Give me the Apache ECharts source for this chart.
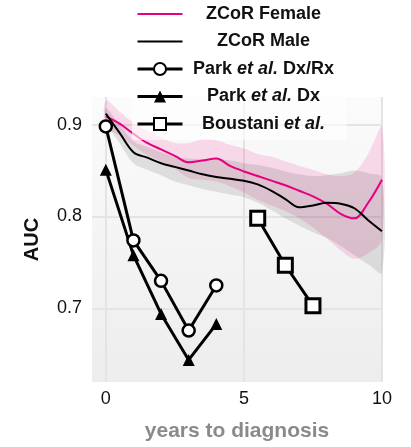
<!DOCTYPE html>
<html>
<head>
<meta charset="utf-8">
<script src="https://cdn.jsdelivr.net/npm/echarts@6/dist/echarts.min.js"></script>
<style>
  html, body { margin: 0; padding: 0; background: #ffffff; }
  #chart { width: 411px; height: 447px; }
</style>
</head>
<body>
<div id="chart"></div>
<script>
// ZCoR curves, sampled every half year before diagnosis
const years = [0, 0.5, 1, 1.5, 2, 2.5, 3, 3.5, 4, 4.5, 5, 5.5, 6, 6.5, 7, 7.5, 8, 8.5, 9, 9.5, 10];

const femaleAUC  = [0.909, 0.901, 0.890, 0.880, 0.873, 0.866, 0.859, 0.861, 0.863, 0.855, 0.849,
                    0.844, 0.839, 0.834, 0.828, 0.822, 0.814, 0.803, 0.798, 0.815, 0.840];
const femaleLow  = [0.898, 0.888, 0.877, 0.867, 0.860, 0.852, 0.842, 0.840, 0.838, 0.833, 0.826,
                    0.818, 0.812, 0.806, 0.798, 0.788, 0.776, 0.763, 0.754, 0.760, 0.775];
const femaleHigh = [0.926, 0.914, 0.902, 0.893, 0.886, 0.880, 0.880, 0.884, 0.883, 0.878, 0.874,
                    0.868, 0.865, 0.860, 0.855, 0.851, 0.846, 0.844, 0.848, 0.868, 0.897];

const maleAUC  = [0.912, 0.891, 0.870, 0.864, 0.858, 0.854, 0.850, 0.846, 0.843, 0.841, 0.839,
                  0.835, 0.828, 0.819, 0.810, 0.812, 0.815, 0.814, 0.809, 0.796, 0.784];
const maleLow  = [0.904, 0.880, 0.858, 0.851, 0.845, 0.838, 0.834, 0.830, 0.827, 0.824, 0.821,
                  0.815, 0.807, 0.798, 0.790, 0.783, 0.777, 0.768, 0.758, 0.748, 0.739];
const maleHigh = [0.918, 0.900, 0.882, 0.876, 0.870, 0.865, 0.863, 0.862, 0.862, 0.861, 0.858,
                  0.856, 0.853, 0.849, 0.846, 0.844, 0.845, 0.847, 0.850, 0.847, 0.842];

// Published comparison models
const parkYears  = [0, 1, 2, 3, 4];
const parkDxRx   = [0.898, 0.774, 0.730, 0.676, 0.725];
const parkDx     = [0.851, 0.758, 0.694, 0.644, 0.683];
const boustaniYears = [5.5, 6.5, 7.5];
const boustaniAUC   = [0.798, 0.747, 0.703];

// Axis ticks
const xTicks = [0, 5, 10];
const yTicks = [0.7, 0.8, 0.9];

const seriesNames = ['ZCoR Female', 'ZCoR Male', 'Park et al. Dx/Rx', 'Park et al. Dx', 'Boustani et al.'];
const legendRich = {
  '0': '{b|ZCoR Female}',
  '1': '{b|ZCoR Male}',
  '2': '{b|Park }{i|et al.}{b| Dx/Rx}',
  '3': '{b|Park }{i|et al.}{b| Dx}',
  '4': '{b|Boustani }{i|et al.}'
};

const pairs = (xs, ys) => xs.map((x, i) => [x, ys[i]]);

const FONT = '"Liberation Sans", Arial, Helvetica, sans-serif';
const SMOOTH = 0.35;

// Shaded confidence band between a lower and an upper curve
function bandSeries(name, lo, hi, color) {
  return {
    name: name, type: 'custom', silent: true, z: 1,
    data: [[years[0], lo[0]]],
    renderItem: function (params, api) {
      const upper = years.map((x, i) => api.coord([x, hi[i]]));
      const lower = years.map((x, i) => api.coord([x, lo[i]])).reverse();
      return {
        type: 'polygon',
        shape: { points: upper.concat(lower), smooth: SMOOTH },
        style: { fill: color },
        silent: true
      };
    }
  };
}

// Legend entries: plain lines for ZCoR, thick lines with markers for the others
const legendData = seriesNames.map((n, i) => i < 2
  ? { name: n, itemStyle: { opacity: 0 }, lineStyle: { width: 2 } }
  : { name: n, lineStyle: { width: 3 } });

const chart = echarts.init(document.getElementById('chart'), null, { renderer: 'canvas' });

chart.setOption({
  animation: false,
  backgroundColor: '#ffffff',
  textStyle: { fontFamily: FONT },
  grid: {
    left: 92, right: 29, top: 97, bottom: 62,
    show: true,
    borderWidth: 0,
    backgroundColor: {
      type: 'linear', x: 0, y: 0, x2: 0, y2: 1,
      colorStops: [{ offset: 0, color: '#fbfbfb' }, { offset: 1, color: '#ededed' }]
    }
  },
  legend: {
    data: legendData,
    orient: 'vertical',
    left: 132, top: 0,
    padding: [5, 7, 7, 4],
    itemWidth: 45, itemHeight: 15, itemGap: 9.5,
    backgroundColor: 'rgba(255,255,255,0.6)',
    formatter: name => legendRich[seriesNames.indexOf(name)],
    textStyle: {
      width: 152,
      lineHeight: 18,
      rich: {
        b: { fontFamily: FONT, fontSize: 18, fontWeight: 'bold', color: '#111', align: 'center' },
        i: { fontFamily: FONT, fontSize: 18, fontWeight: 'bold', fontStyle: 'italic', color: '#111', align: 'center' }
      }
    }
  },
  xAxis: {
    type: 'value', min: -0.5, max: 10,
    name: 'years to diagnosis', nameLocation: 'middle', nameGap: 39,
    nameTextStyle: { fontFamily: FONT, fontSize: 21, fontWeight: 'bold', color: '#8a8a8a' },
    axisLine: { show: false },
    axisTick: { show: false, customValues: xTicks },
    axisLabel: { customValues: xTicks, margin: 8, fontFamily: FONT, fontSize: 18, color: '#111' },
    splitLine: { show: true, lineStyle: { color: '#e4e4e4', width: 2 } }
  },
  yAxis: {
    type: 'value', min: 0.62, max: 0.93,
    name: 'AUC', nameLocation: 'middle', nameGap: 50, nameRotate: 90,
    nameTextStyle: { fontFamily: FONT, fontSize: 20, fontWeight: 'bold', color: '#111' },
    axisLine: { show: false },
    axisTick: { show: false, customValues: yTicks },
    axisLabel: { customValues: yTicks, margin: 10, fontFamily: FONT, fontSize: 18, color: '#111',
                 formatter: v => v.toFixed(1) },
    splitLine: { show: true, lineStyle: { color: '#e4e4e4', width: 2 } }
  },
  series: [
    bandSeries('femaleBand', femaleLow, femaleHigh, 'rgba(232,0,126,0.13)'),
    bandSeries('maleBand', maleLow, maleHigh, 'rgba(0,0,0,0.1)'),
    {
      name: 'ZCoR Female', type: 'line', smooth: SMOOTH, symbol: 'none', z: 3,
      data: pairs(years, femaleAUC),
      itemStyle: { color: '#e6007e' },
      lineStyle: { color: '#e6007e', width: 2 }
    },
    {
      name: 'ZCoR Male', type: 'line', smooth: SMOOTH, symbol: 'none', z: 3,
      data: pairs(years, maleAUC),
      itemStyle: { color: '#000' },
      lineStyle: { color: '#000', width: 2 }
    },
    {
      name: 'Park et al. Dx/Rx', type: 'line', z: 4,
      data: pairs(parkYears, parkDxRx),
      symbol: 'circle', symbolSize: 12,
      itemStyle: { color: '#ffffff', borderColor: '#000', borderWidth: 2.5 },
      lineStyle: { color: '#000', width: 3 }
    },
    {
      name: 'Park et al. Dx', type: 'line', z: 4,
      data: pairs(parkYears, parkDx),
      symbol: 'triangle', symbolSize: 12,
      itemStyle: { color: '#000' },
      lineStyle: { color: '#000', width: 3 }
    },
    {
      name: 'Boustani et al.', type: 'line', z: 4,
      data: pairs(boustaniYears, boustaniAUC),
      symbol: 'rect', symbolSize: 14,
      itemStyle: { color: '#ffffff', borderColor: '#000', borderWidth: 3 },
      lineStyle: { color: '#000', width: 3 }
    }
  ]
});
</script>
</body>
</html>
